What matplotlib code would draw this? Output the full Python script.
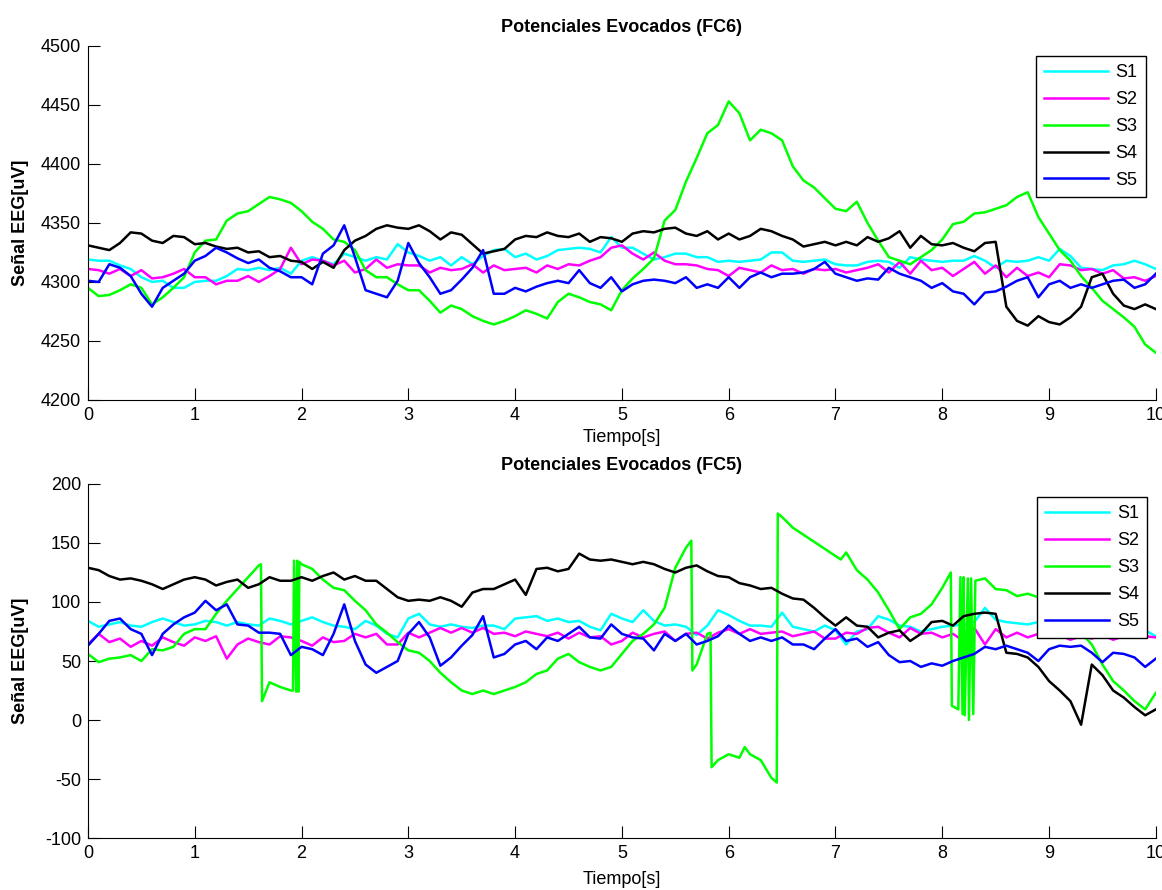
import numpy as np
import matplotlib.pyplot as plt

plt.rcParams['font.family'] = ['Liberation Sans', 'DejaVu Sans']
plt.rcParams['axes.unicode_minus'] = False

# muestras cada 0.1 s
tiempo = np.linspace(0, 10, 101)

# ---- canal FC6 ----
fc6_s1 = [4319, 4318, 4318, 4314, 4311, 4304, 4300, 4301, 4295, 4295,
          4300, 4301, 4301, 4305, 4311, 4310, 4312, 4310, 4312, 4307,
          4318, 4321, 4318, 4315, 4324, 4321, 4318, 4321, 4319, 4332,
          4325, 4322, 4318, 4321, 4314, 4321, 4315, 4322, 4327, 4328,
          4321, 4324, 4319, 4322, 4327, 4328, 4329, 4328, 4325, 4338,
          4329, 4329, 4324, 4319, 4321, 4324, 4324, 4321, 4321, 4317,
          4318, 4317, 4318, 4319, 4325, 4325, 4318, 4317, 4318, 4319,
          4315, 4314, 4314, 4317, 4318, 4317, 4312, 4321, 4319, 4318,
          4317, 4318, 4318, 4322, 4318, 4312, 4318, 4317, 4318, 4321,
          4318, 4328, 4322, 4312, 4311, 4310, 4314, 4315, 4318, 4315,
          4311]
fc6_s2 = [4311, 4310, 4307, 4311, 4305, 4310, 4303, 4304, 4307, 4311,
          4304, 4304, 4298, 4301, 4301, 4305, 4300, 4305, 4311, 4329,
          4315, 4319, 4318, 4314, 4318, 4308, 4311, 4319, 4312, 4315,
          4314, 4314, 4308, 4312, 4310, 4311, 4315, 4308, 4314, 4310,
          4311, 4312, 4308, 4314, 4311, 4315, 4314, 4318, 4321, 4329,
          4331, 4324, 4319, 4325, 4318, 4315, 4315, 4314, 4311, 4310,
          4305, 4312, 4310, 4308, 4314, 4310, 4311, 4307, 4311, 4310,
          4311, 4308, 4310, 4312, 4315, 4308, 4317, 4307, 4318, 4310,
          4312, 4305, 4311, 4317, 4307, 4314, 4304, 4312, 4305, 4308,
          4304, 4315, 4314, 4310, 4311, 4307, 4310, 4303, 4304, 4301,
          4305]
fc6_s3 = [4295, 4288, 4289, 4293, 4298, 4295, 4281, 4287, 4295, 4304,
          4325, 4335, 4336, 4352, 4358, 4360, 4366, 4372, 4370, 4367,
          4360, 4351, 4345, 4336, 4334, 4327, 4310, 4304, 4304, 4298,
          4293, 4293, 4284, 4274, 4280, 4277, 4271, 4267, 4264, 4267,
          4271, 4276, 4273, 4269, 4283, 4290, 4287, 4283, 4281, 4276,
          4293, 4303, 4311, 4320, 4352, 4361, 4385, 4405, 4426, 4433,
          4453, 4443, 4420, 4429, 4426, 4420, 4398, 4386, 4380, 4371,
          4362, 4360, 4368, 4350, 4335, 4321, 4318, 4315, 4321, 4327,
          4336, 4349, 4351, 4358, 4359, 4362, 4365, 4372, 4376, 4355,
          4341, 4327, 4318, 4305, 4295, 4284, 4277, 4270, 4262, 4247,
          4240]
fc6_s4 = [4331, 4329, 4327, 4333, 4342, 4341, 4335, 4333, 4339, 4338,
          4332, 4333, 4330, 4328, 4329, 4325, 4326, 4321, 4322, 4318,
          4317, 4311, 4317, 4312, 4327, 4335, 4339, 4345, 4348, 4346,
          4345, 4348, 4343, 4336, 4342, 4340, 4332, 4324, 4326, 4328,
          4336, 4339, 4338, 4342, 4339, 4338, 4341, 4334, 4338, 4337,
          4334, 4341, 4343, 4342, 4345, 4346, 4341, 4339, 4343, 4336,
          4341, 4336, 4339, 4345, 4343, 4339, 4336, 4330, 4332, 4334,
          4331, 4334, 4331, 4338, 4334, 4337, 4343, 4329, 4339, 4332,
          4331, 4333, 4329, 4326, 4333, 4334, 4279, 4267, 4263, 4271,
          4266, 4264, 4270, 4279, 4304, 4307, 4290, 4280, 4277, 4281,
          4277]
fc6_s5 = [4301, 4300, 4315, 4312, 4305, 4290, 4279, 4295, 4301, 4307,
          4318, 4322, 4329, 4325, 4320, 4316, 4319, 4312, 4309, 4304,
          4304, 4298, 4324, 4331, 4348, 4321, 4293, 4290, 4287, 4301,
          4333, 4316, 4304, 4290, 4293, 4302, 4312, 4327, 4290, 4290,
          4295, 4292, 4296, 4299, 4301, 4299, 4310, 4299, 4295, 4304,
          4292, 4298, 4301, 4302, 4301, 4299, 4304, 4295, 4298, 4295,
          4304, 4295, 4304, 4308, 4304, 4307, 4307, 4308, 4311, 4317,
          4307, 4304, 4301, 4303, 4302, 4312, 4307, 4304, 4301, 4295,
          4299, 4292, 4290, 4281, 4291, 4292, 4296, 4301, 4304, 4287,
          4298, 4301, 4295, 4298, 4295, 4298, 4301, 4302, 4295, 4298,
          4307]

# ---- canal FC5 ----
fc5_s1 = [84, 79, 81, 83, 80, 79, 83, 86, 83, 80,
          81, 84, 83, 80, 83, 81, 80, 86, 84, 81,
          84, 87, 83, 80, 79, 77, 84, 80, 73, 70,
          86, 90, 81, 79, 81, 79, 78, 80, 80, 77,
          86, 87, 88, 84, 86, 83, 84, 79, 76, 90,
          86, 83, 93, 84, 80, 81, 79, 72, 80, 93,
          89, 84, 80, 80, 79, 91, 79, 77, 75, 80,
          76, 64, 75, 77, 88, 85, 80, 79, 75, 77,
          79, 80, 81, 83, 95, 85, 83, 82, 81, 83,
          80, 82, 79, 81, 80, 78, 81, 79, 80, 76,
          71]
fc5_s2 = [64, 73, 66, 69, 62, 67, 63, 70, 66, 63,
          70, 67, 71, 52, 64, 69, 66, 64, 71, 70,
          67, 63, 70, 66, 67, 73, 70, 73, 64, 64,
          74, 70, 74, 78, 74, 78, 74, 78, 73, 74,
          71, 75, 73, 71, 74, 69, 74, 70, 71, 64,
          67, 74, 70, 73, 75, 67, 73, 74, 69, 74,
          77, 73, 77, 73, 74, 75, 71, 73, 75, 69,
          69, 74, 73, 78, 79, 74, 70, 78, 73, 74,
          70, 73, 67, 78, 64, 77, 70, 74, 70, 73,
          70, 72, 68, 71, 69, 72, 68, 71, 70, 71,
          70]
# S3 en FC5 tiene saltos bruscos, con sus propios instantes
fc5_s3_t = [0.0, 0.1, 0.2, 0.3, 0.4, 0.5, 0.6, 0.7, 0.8, 0.9,
            1.0, 1.1, 1.2, 1.3, 1.4, 1.5, 1.6, 1.62, 1.63, 1.7,
            1.8, 1.9, 1.92, 1.93, 1.95, 1.96, 1.97, 1.98, 2.0, 2.1,
            2.2, 2.3, 2.4, 2.5, 2.6, 2.7, 2.8, 2.9, 3.0, 3.1,
            3.2, 3.3, 3.4, 3.5, 3.6, 3.7, 3.8, 3.9, 4.0, 4.1,
            4.2, 4.3, 4.4, 4.5, 4.6, 4.7, 4.8, 4.9, 5.0, 5.1,
            5.2, 5.3, 5.4, 5.5, 5.6, 5.65, 5.66, 5.7, 5.8, 5.83,
            5.84, 5.9, 6.0, 6.1, 6.15, 6.2, 6.3, 6.4, 6.45, 6.46,
            6.5, 6.6, 6.7, 6.8, 6.9, 7.0, 7.05, 7.1, 7.2, 7.3,
            7.4, 7.5, 7.6, 7.7, 7.8, 7.9, 8.0, 8.08, 8.09, 8.15,
            8.17, 8.19, 8.2, 8.21, 8.24, 8.25, 8.27, 8.29, 8.31, 8.4,
            8.5, 8.6, 8.7, 8.8, 8.9, 9.0, 9.1, 9.2, 9.3, 9.4,
            9.5, 9.6, 9.7, 9.8, 9.9, 9.95, 10.0]
fc5_s3 = [56, 49, 52, 53, 55, 50, 60, 59, 62, 73,
          77, 77, 90, 101, 111, 121, 131, 132, 16, 32,
          28, 25, 25, 135, 24, 135, 24, 134, 132, 128,
          119, 112, 110, 101, 93, 81, 74, 66, 59, 57,
          50, 40, 32, 25, 22, 25, 22, 25, 28, 32,
          39, 42, 52, 56, 49, 45, 42, 45, 56, 67,
          73, 81, 95, 129, 146, 152, 42, 47, 73, 74,
          -40, -34, -29, -32, -23, -29, -34, -49, -53, 175,
          172, 163, 157, 151, 145, 139, 136, 142, 127, 119,
          108, 93, 77, 87, 90, 98, 112, 125, 12, 9,
          121, 5, 121, 4, 120, 0, 120, 5, 118, 120,
          111, 110, 105, 107, 104, 100, 95, 86, 74, 64,
          47, 33, 25, 16, 9, 16, 23]
fc5_s4 = [129, 127, 122, 119, 120, 118, 115, 111, 115, 119,
          121, 119, 114, 117, 119, 112, 115, 121, 118, 118,
          121, 118, 122, 125, 119, 122, 118, 118, 111, 104,
          101, 102, 101, 104, 101, 96, 108, 111, 111, 115,
          119, 106, 128, 129, 126, 128, 141, 136, 135, 136,
          134, 132, 134, 132, 128, 125, 129, 131, 126, 122,
          121, 116, 114, 111, 112, 107, 103, 102, 95, 87,
          80, 87, 80, 79, 70, 74, 76, 67, 73, 83,
          84, 80, 88, 90, 91, 90, 57, 56, 53, 45,
          33, 25, 16, -4, 47, 38, 25, 19, 11, 4,
          9]
fc5_s5 = [63, 73, 84, 86, 77, 73, 55, 73, 81, 87,
          91, 101, 93, 98, 81, 80, 74, 74, 73, 55,
          62, 60, 55, 73, 98, 67, 47, 40, 45, 50,
          73, 83, 70, 46, 53, 63, 72, 88, 53, 56,
          64, 67, 60, 70, 67, 73, 79, 70, 69, 81,
          73, 70, 69, 59, 73, 67, 73, 64, 67, 71,
          80, 73, 67, 70, 67, 70, 64, 64, 60, 69,
          77, 67, 69, 62, 66, 55, 49, 50, 45, 48,
          46, 50, 53, 56, 62, 60, 63, 60, 57, 50,
          60, 63, 62, 63, 57, 49, 57, 56, 53, 45,
          52]

nombres = ['S1', 'S2', 'S3', 'S4', 'S5']
colores = ['#00ffff', '#ff00ff', '#00ff00', '#000000', '#0000ff']


def dibujar(ax, series, titulo, yticks, leg_anchor, xlab_y):
    for (tt, yy), c, n in zip(series, colores, nombres):
        ax.plot(tt, yy, color=c, lw=1.8, label=n)

    ax.set_xlim(0, 10)
    ax.set_ylim(yticks[0], yticks[-1])
    ax.set_xticks(range(11))
    ax.set_yticks(yticks)
    ax.set_title(titulo, fontsize=13, fontweight='bold', pad=10)
    ax.set_xlabel('Tiempo[s]', fontsize=13)
    ax.set_ylabel('Señal EEG[uV]', fontsize=13, fontweight='bold')
    ax.xaxis.set_label_coords(0.5, xlab_y)
    ax.yaxis.set_label_coords(-0.055, 0.5)

    ax.spines['top'].set_visible(False)
    ax.spines['right'].set_visible(False)
    for s in ('left', 'bottom'):
        ax.spines[s].set_linewidth(0.8)
    ax.tick_params(direction='in', length=8.5, width=0.8, labelsize=13, pad=5)

    leg = ax.legend(loc='upper right', bbox_to_anchor=leg_anchor, fontsize=13,
                    fancybox=False, edgecolor='black', framealpha=1,
                    borderpad=0.45, labelspacing=0.55, handlelength=3.5,
                    handletextpad=0.45, borderaxespad=0)
    leg.get_frame().set_linewidth(1.0)


fig = plt.figure(figsize=(11.62, 8.90), dpi=100)
ax1 = fig.add_axes([0.0757, 0.5506, 0.919, 0.3978])
ax2 = fig.add_axes([0.0757, 0.0584, 0.919, 0.3978])

dibujar(ax1, [(tiempo, fc6_s1), (tiempo, fc6_s2), (tiempo, fc6_s3),
              (tiempo, fc6_s4), (tiempo, fc6_s5)],
        'Potenciales Evocados (FC6)', list(range(4200, 4501, 50)),
        (0.9906, 0.9718), -0.082)
dibujar(ax2, [(tiempo, fc5_s1), (tiempo, fc5_s2), (fc5_s3_t, fc5_s3),
              (tiempo, fc5_s4), (tiempo, fc5_s5)],
        'Potenciales Evocados (FC5)', list(range(-100, 201, 50)),
        (0.9916, 0.963), -0.094)

fig.savefig('out.png', dpi=100)
